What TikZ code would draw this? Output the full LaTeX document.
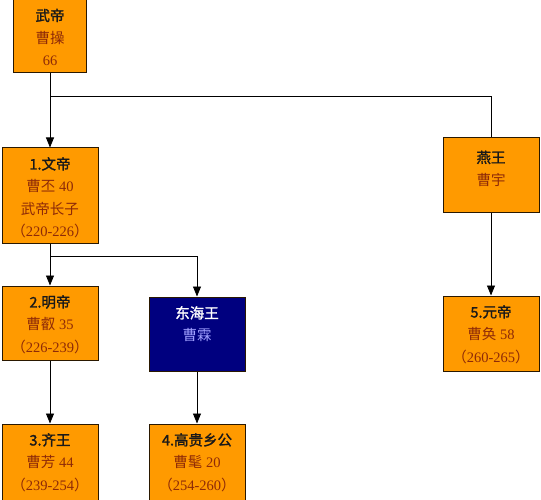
\documentclass[tikz,border=0pt]{standalone}
\usepackage{fontspec}
\setmainfont{Liberation Serif}
\newfontfamily\cjk{Noto Sans CJK SC}
\newfontfamily\cjkb{Noto Sans CJK SC}[FakeBold=1.5]
\usetikzlibrary{arrows.meta}
\definecolor{boxorange}{HTML}{FF9A00}
\definecolor{boxnavy}{HTML}{00007F}
\definecolor{txtred}{HTML}{8E2A08}
\definecolor{txtblue}{HTML}{A0A0FF}
\definecolor{edge}{HTML}{2A1800}
\tikzset{
  x=1pt, y=-1pt,
  famebox/.style={draw=edge, line width=1pt, fill=boxorange, minimum width=96pt, inner sep=0pt},
  navybox/.style={famebox, fill=boxnavy},
  famtext/.style={anchor=north, align=center, inner sep=0pt, text=txtred,
    font=\fontsize{14.5}{22.5}\selectfont},
  link/.style={draw=black, line width=0.8pt},
  arr/.style={link, -{Triangle[length=10pt,width=8pt]}}
}
\newcommand{\T}[1]{{\cjkb\color{black!90}#1}}
\begin{document}
\begin{tikzpicture}
\useasboundingbox (0,0) rectangle (541,500);
% boxes
\node[famebox, minimum width=73pt, minimum height=73pt] (wudi) at (50,36.5) {};
\node[famebox, minimum height=95pt] (wendi) at (50,195.5) {};
\node[famebox, minimum height=74pt] (mingdi) at (50,323) {};
\node[navybox, minimum height=74pt] (donghai) at (197,334) {};
\node[famebox, minimum height=76pt] (qiwang) at (50,462) {};
\node[famebox, minimum height=76pt] (gaogui) at (197,462) {};
\node[famebox, minimum height=74pt] (yanwang) at (491,175) {};
\node[famebox, minimum height=75pt] (yuandi) at (491,333.5) {};
% texts
\node[famtext] (t-wudi) at ([yshift=-9pt]wudi.north) {\T{武帝}\\{\cjk 曹操}\\66};
\node[famtext] (t-wendi) at ([yshift=-9.5pt]wendi.north) {\T{1.文帝}\\{\cjk 曹丕} 40\\{\cjk 武帝长子}\\{\cjk （}220-226{\cjk ）}};
\node[famtext] (t-mingdi) at ([yshift=-9.5pt]mingdi.north) {\T{2.明帝}\\{\cjk 曹叡} 35\\{\cjk （}226-239{\cjk ）}};
\node[famtext, text=txtblue] (t-donghai) at ([yshift=-9.5pt]donghai.north) {{\cjkb\color{white}东海王}\\{\cjk 曹霖}};
\node[famtext] (t-qiwang) at ([yshift=-9.5pt]qiwang.north) {\T{3.齐王}\\{\cjk 曹芳} 44\\{\cjk （}239-254{\cjk ）}};
\node[famtext] (t-gaogui) at ([yshift=-9.5pt]gaogui.north) {\T{4.高贵乡公}\\{\cjk 曹髦} 20\\{\cjk （}254-260{\cjk ）}};
\node[famtext] (t-yanwang) at ([yshift=-13pt]yanwang.north) {\T{燕王}\\{\cjk 曹宇}};
\node[famtext] (t-yuandi) at ([yshift=-9.5pt]yuandi.north) {\T{5.元帝}\\{\cjk 曹奂} 58\\{\cjk （}260-265{\cjk ）}};
% connectors
\coordinate (j1) at (50,96);
\coordinate (j2) at (50,256);
\draw[arr] (wudi.south) -- (wendi.north);
\draw[link] (j1) -| (yanwang.north);
\draw[arr] (yanwang.south) -- (yuandi.north);
\draw[arr] (wendi.south) -- (mingdi.north);
\draw[arr] (j2) -| (donghai.north);
\draw[arr] (mingdi.south) -- (qiwang.north);
\draw[arr] (donghai.south) -- (gaogui.north);
\end{tikzpicture}
\end{document}
